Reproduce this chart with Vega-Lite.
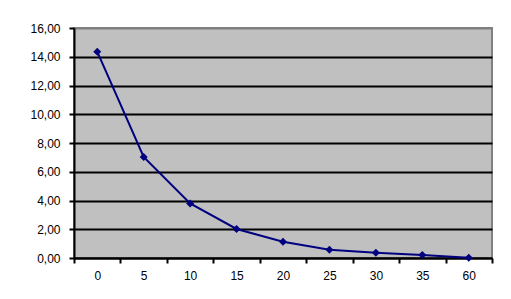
{
  "$schema": "https://vega.github.io/schema/vega-lite/v6.json",
  "width": 418,
  "height": 230,
  "autosize": {"type": "none"},
  "padding": {"left": 74, "top": 28, "right": 19, "bottom": 41},
  "background": "white",
  "config": {
    "locale": {"number": {"decimal": ",", "thousands": ".", "grouping": [3], "currency": ["", " €"]}},
    "view": {"fill": "#C0C0C0", "stroke": "#808080", "strokeWidth": 2},
    "font": "Liberation Sans"
  },
  "data": {"values": [
    {"t": "0", "v": 14.35},
    {"t": "5", "v": 7.03},
    {"t": "10", "v": 3.8},
    {"t": "15", "v": 2.02},
    {"t": "20", "v": 1.13},
    {"t": "25", "v": 0.58},
    {"t": "30", "v": 0.37},
    {"t": "35", "v": 0.21},
    {"t": "60", "v": 0.02}
  ]},
  "encoding": {
    "x": {"field": "t", "type": "ordinal", "sort": null,
      "scale": {"type": "band", "paddingInner": 0, "paddingOuter": 0},
      "axis": {"title": null, "labelAngle": 0, "tickBand": "extent", "grid": false,
        "domainColor": "black", "domainWidth": 2, "tickColor": "black", "tickWidth": 2, "tickSize": 5,
        "labelFont": "Liberation Sans", "labelFontSize": 12, "labelColor": "black", "labelPadding": 7}},
    "y": {"field": "v", "type": "quantitative",
      "scale": {"domain": [0, 16], "nice": false, "zero": true},
      "axis": {"title": null, "values": [0, 2, 4, 6, 8, 10, 12, 14, 16], "format": ".2f",
        "grid": true, "gridColor": {"condition": {"test": "datum.value == 16", "value": "#808080"}, "value": "black"}, "gridWidth": 2,
        "domainColor": "black", "domainWidth": 2, "tickColor": "black", "tickWidth": 2, "tickSize": 5,
        "labelFont": "Liberation Sans", "labelFontSize": 12, "labelColor": "black", "labelPadding": 9}}
  },
  "layer": [
    {"mark": {"type": "line", "color": "#000080", "strokeWidth": 2}},
    {"mark": {"type": "point", "shape": "diamond", "filled": true, "color": "#000080", "size": 64, "opacity": 1}}
  ]
}
